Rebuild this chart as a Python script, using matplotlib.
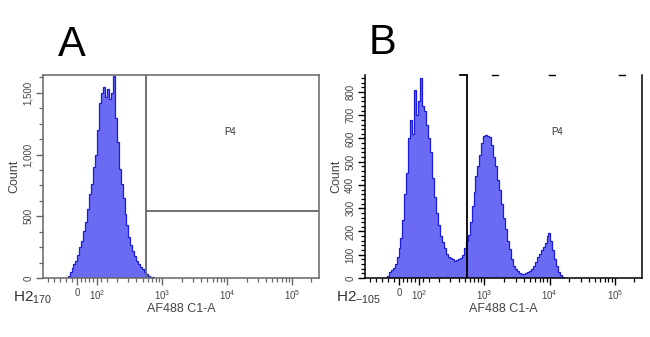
# Two flow cytometry histograms (AF488 C1-A), panels A and B

import numpy as np
import matplotlib.pyplot as plt

plt.rcParams['font.family'] = ['Liberation Sans', 'DejaVu Sans']
plt.rcParams['mathtext.fontset'] = 'custom'
plt.rcParams['mathtext.rm'] = 'Liberation Sans'

# panel A: one population, counts per bin between a_lo and a_hi
a_lo, a_hi = -60, 750
a_counts = [0, 20, 50, 80, 110, 140, 190, 250, 300, 380, 450, 560, 680, 760, 900,
            1000, 1200, 1420, 1500, 1550, 1470, 1530, 1450, 1500, 1640, 1300, 1100,
            880, 760, 650, 520, 430, 330, 270, 220, 180, 140, 110, 90, 70, 50, 30,
            20, 10, 5]
a_gate_x = 570
a_gate_y = 540

# panel B: three populations
b_lo, b_hi = -65, 16800
b_counts = [10, 25, 35, 45, 60, 90, 130, 170, 250, 360, 450, 600, 680, 620, 810,
            700, 760, 860, 740, 720, 660, 600, 540, 430, 350, 280, 230, 180, 155,
            130, 105, 92, 85, 80, 75, 78, 82, 85, 100, 130, 160, 185, 240, 310, 370,
            440, 480, 530, 580, 610, 615, 612, 608, 570, 520, 480, 420, 380, 320,
            260, 210, 160, 125, 80, 52, 40, 30, 22, 18, 18, 20, 24, 30, 38, 50, 70,
            90, 105, 120, 135, 150, 180, 195, 160, 120, 80, 50, 25, 12, 4]
b_gate_x = 530

x_min, x_max = -175, 262144
x_ticks = [0, 100, 1000, 10000, 100000]
x_labels = ['0', r'10$^{\mathregular{2}}$', r'10$^{\mathregular{3}}$',
            r'10$^{\mathregular{4}}$', r'10$^{\mathregular{5}}$']
x_minor = [k * 10 ** d for d in range(2, 6) for k in range(2, 10) if k * 10 ** d < x_max] + \
          [-150, -120, -90, -60, -30, 20, 40, 60, 80, 120, 150]

fill_col = '#6a6af2'
edge_col = '#1c1cd6'

fig = plt.figure(figsize=(6.5, 3.37), dpi=100)
axA = fig.add_axes([0.0662, 0.1751, 0.4246, 0.6024])
axB = fig.add_axes([0.5615, 0.1751, 0.4262, 0.6024])


def draw_hist(ax, lo, hi, counts):
    tr = ax.xaxis.get_transform()
    t0, t1 = tr.transform([lo, hi])
    edges = tr.inverted().transform(np.linspace(t0, t1, len(counts) + 1))
    ax.stairs(counts, edges, fill=True, color=fill_col, lw=0)
    ax.stairs(counts, edges, color=edge_col, lw=0.9)


for ax, col in [(axA, '#666666'), (axB, 'black')]:
    ax.set_xscale('symlog', linthresh=200, linscale=0.545)
    ax.set_xticks(x_ticks, labels=x_labels)
    ax.set_xticks(x_minor, minor=True)
    ax.set_xlim(x_min, x_max)
    ax.tick_params(axis='both', which='major', direction='out', length=5,
                   width=1, color=col, labelsize=7, labelcolor='#444444', pad=2)
    ax.tick_params(axis='both', which='minor', direction='out', length=3,
                   width=0.9, color=col)
    ax.set_xlabel('AF488 C1-A', fontsize=9, color='#444444', labelpad=1)
    ax.set_ylabel('Count', fontsize=9, color='#444444', labelpad=2)
    for s in ax.spines.values():
        s.set_color(col)
        s.set_linewidth(1.1)

# panel A
draw_hist(axA, a_lo, a_hi, a_counts)
axA.set_yticks([0, 500, 1000, 1500], labels=['0', '500', '1,000', '1,500'],
               rotation=90, va='center')
axA.set_yticks(np.arange(0, 1645, 125), minor=True)
axA.set_ylim(0, 1645)
axA.axvline(a_gate_x, color='#666666', lw=1.3)
axA.plot([a_gate_x, x_max], [a_gate_y, a_gate_y], color='#666666', lw=1.3)
axA.text(11000, 1185, 'P4', fontsize=7, color='#333333', ha='center', va='center')

# panel B
draw_hist(axB, b_lo, b_hi, b_counts)
axB.set_yticks(range(0, 900, 100),
               labels=['0', '100', '200', '300', '400', '500', '600', '700', '800'],
               rotation=90, va='center')
axB.set_yticks(range(0, 873, 20), minor=True)
axB.set_ylim(0, 873)
axB.axvline(b_gate_x, color='black', lw=1.3)
axB.plot([420, b_gate_x], [873, 873], color='black', lw=1.3, clip_on=False)
# top border only shows as a few short dashes
axB.spines['top'].set_linewidth(1.0)
axB.spines['top'].set_linestyle((220.3, (4.3, 36.7, 4.3, 46.1, 4.3, 216)))
axB.text(13000, 627, 'P4', fontsize=7, color='#333333', ha='center', va='center')

fig.text(0.111, 0.866, 'A', fontsize=30, ha='center', va='center', color='black')
fig.text(0.588, 0.872, 'B', fontsize=30, ha='center', va='center', color='black')

fig.text(0.02, 1 - 298 / 337, r'H2$_{\mathregular{170}}$', fontsize=11,
         color='#333333', va='center')
fig.text(0.517, 1 - 298 / 337, r'H2$_{\mathregular{-105}}$', fontsize=11,
         color='#333333', va='center')

fig.savefig('out.png', dpi=100)
